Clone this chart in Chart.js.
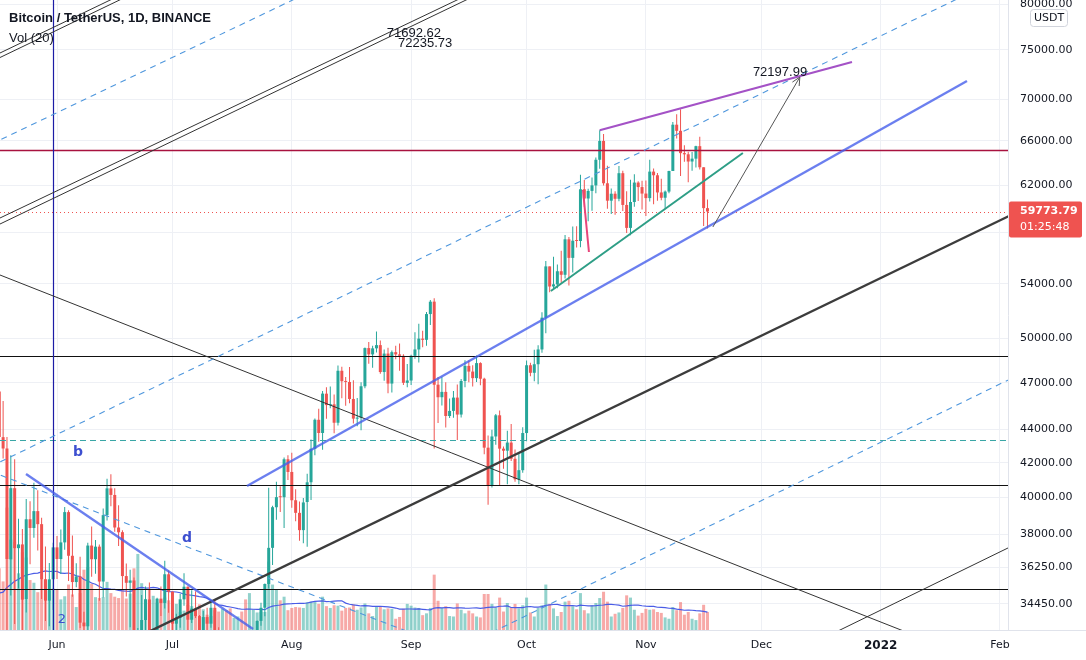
<!DOCTYPE html>
<html>
<head>
<meta charset="utf-8">
<title>BTCUSDT 1D</title>
<script src="https://cdn.jsdelivr.net/npm/chart.js@4.4.0/dist/chart.umd.min.js"></script>
<style>
  html, body { margin: 0; padding: 0; background: #ffffff; }
  #wrap { width: 1086px; height: 660px; position: relative; }
</style>
</head>
<body>
<div id="wrap"><canvas id="btcChart" width="1086" height="660"></canvas></div>
<script>
// ------------------------------------------------------------
// BTC / USDT daily candles, 17 May - 17 Nov 2021 (Binance)
// x values are days counted from 1 Jun 2021
// ------------------------------------------------------------

const FIRST_DAY = -15; // 17 May 2021

const OPEN = [
  46426, 43538, 42850, 36671, 40527, 37252, 37449, 34682, 38796, 38324, 39241, 38530, 35661, 34606, 35658,
  37294, 36687, 37555, 39187, 36856, 35520, 35797, 33556, 33380, 37389, 36677, 37331, 35546, 39020, 40516, 40143, 38349, 38098, 35820, 35484, 35600, 31614, 32510, 33676, 34663, 31577, 32284, 34703, 34494, 35911,
  35045, 33503, 33786, 34669, 35288, 33690, 34220, 33863, 32875, 33815, 33502, 34259, 33087, 32730, 32820, 31874, 31384, 31520, 31778, 30839, 29790, 32144, 32288, 33635, 34262, 35425, 37269, 39456, 40020, 40018, 42207,
  41461, 39846, 39146, 38208, 39745, 40865, 42833, 44614, 43794, 46280, 45543, 45592, 44429, 47793, 47097, 47047, 45937, 44686, 44741, 46763, 49340, 48905, 49322, 49546, 47707, 48961, 46942, 49058, 48903, 48807, 46988,
  47143, 48808, 49246, 50000, 49917, 51756, 52666, 46868, 46049, 46396, 44851, 45173, 46026, 44942, 47111, 48122, 47738, 47300, 48310, 47261, 42900, 40670, 43580, 44895, 42839, 42716, 43208, 42236, 41034, 41564,
  43790, 48166, 47657, 48233, 49245, 51493, 55339, 53798, 53955, 54964, 54691, 57485, 56005, 57373, 57348, 61672, 60876, 61529, 62006, 64280, 66002, 62193, 60689, 61286, 60852, 63079, 60328, 58413, 60575, 62253, 61860,
  61299, 60911, 63220, 62896, 61396, 60941, 61470, 63274, 67526, 66947, 64883, 64774, 64123, 64380, 65520, 63606, 60059,
];
const HIGH = [
  46686, 45800, 43546, 42451, 42200, 38829, 38270, 39920, 39791, 40841, 40412, 38877, 37338, 36488, 37534,
  37894, 38237, 39476, 39289, 37917, 36477, 36800, 34068, 37530, 38400, 37681, 37447, 39380, 41064, 41330, 40527, 39560, 38200, 36457, 36137, 35750, 33298, 34881, 35298, 35500, 32730, 34749, 35297, 36600, 36100,
  35057, 33977, 34945, 35967, 35293, 35118, 35059, 33920, 34100, 34262, 34666, 34679, 33341, 33115, 33186, 32249, 31955, 32435, 31899, 31063, 32858, 32591, 33650, 34500, 35450, 40550, 39542, 40900, 40640, 42317, 42448,
  42599, 40459, 39780, 39969, 41350, 43392, 44700, 45310, 46454, 46700, 46743, 46218, 48144, 48070, 47372, 48053, 47160, 46000, 47033, 49382, 49757, 49500, 50500, 49875, 49240, 49365, 49170, 49500, 49667, 48909, 48246,
  48888, 50450, 51055, 50558, 51900, 52780, 52920, 47381, 47400, 47031, 45970, 46460, 46876, 47250, 48500, 48490, 48166, 48825, 48372, 47330, 43639, 44000, 44978, 45200, 42970, 43937, 44350, 42788, 42590, 44141,
  48495, 48336, 49228, 49530, 51886, 55750, 55340, 56100, 55489, 56561, 57839, 57680, 58532, 58549, 62933, 62480, 61720, 62695, 64486, 67000, 66639, 63732, 61747, 61500, 63711, 63293, 61496, 62499, 62980, 62359, 62405,
  62437, 64270, 63500, 63086, 62595, 61560, 63286, 67789, 68524, 69000, 65600, 65000, 64988, 65550, 66401, 63617, 60800,
];
const LOW = [
  42001, 42250, 30000, 34850, 33488, 35200, 31111, 34031, 36419, 37800, 37134, 34684, 33633, 33379, 34153,
  35667, 35920, 37171, 35567, 34800, 35258, 33300, 31000, 32396, 35782, 35937, 34600, 34757, 38730, 39506, 38116, 37365, 35129, 34803, 33336, 31251, 28805, 31683, 32286, 31275, 30151, 31973, 33862, 34225, 34017,
  32711, 32699, 33316, 34357, 33125, 33532, 33777, 32111, 32261, 33005, 33307, 32658, 32202, 31600, 31133, 31021, 31164, 31108, 30407, 29278, 29482, 31708, 31924, 33401, 33851, 35205, 36383, 38772, 39200, 38323, 41000,
  39422, 38690, 37642, 37508, 37332, 39853, 42450, 43261, 42779, 44673, 45341, 43770, 44252, 45975, 45500, 45660, 44376, 44203, 43955, 46631, 48273, 48000, 49029, 47600, 47126, 46315, 46362, 48570, 47800, 46853, 46700,
  46853, 48600, 48348, 49400, 49500, 50969, 42843, 44412, 45514, 44132, 44720, 44742, 43370, 44750, 46699, 47023, 46750, 47050, 46829, 42500, 39600, 40565, 43069, 40675, 41647, 40750, 42098, 40888, 40753, 41410,
  43283, 47430, 47100, 46891, 49022, 50383, 53357, 53617, 53661, 54080, 54415, 53879, 54870, 56818, 56850, 60150, 58963, 59844, 61322, 63482, 62000, 60000, 59562, 59510, 60650, 59817, 58000, 57820, 60174, 60673, 59945,
  59405, 60624, 60382, 60677, 60721, 60050, 61322, 63273, 66222, 62822, 64100, 62278, 63303, 63576, 63400, 58574, 58373,
];
const CLOSE = [
  43541, 42850, 36690, 40527, 37252, 37449, 34655, 38796, 38324, 39241, 38529, 35664, 34606, 35658, 37294,
  36687, 37555, 39187, 36856, 35520, 35797, 33552, 33380, 37389, 36677, 37331, 35546, 39020, 40516, 40144, 38349, 38092, 35820, 35483, 35600, 31608, 32509, 33678, 34663, 31584, 32283, 34700, 34494, 35911, 35045,
  33504, 33786, 34669, 35287, 33690, 34220, 33862, 32875, 33815, 33502, 34259, 33086, 32729, 32820, 31880, 31383, 31520, 31778, 30839, 29790, 32144, 32287, 33634, 34258, 35425, 37269, 39457, 40020, 40016, 42206, 41461,
  39845, 39147, 38207, 39723, 40862, 42836, 44614, 43792, 46285, 45543, 45592, 44428, 47793, 47096, 47047, 45936, 44686, 44741, 46763, 49339, 48905, 49321, 49546, 47707, 48960, 46942, 49058, 48903, 48807, 46991, 47145,
  48810, 49246, 49999, 49915, 51756, 52663, 46864, 46048, 46396, 44851, 45172, 46025, 44941, 47112, 48122, 47738, 47300, 48310, 47261, 42900, 40670, 43580, 44895, 42840, 42717, 43208, 42236, 41034, 41564, 43790,
  48165, 47657, 48233, 49245, 51493, 55339, 53797, 53963, 54963, 54691, 57485, 56006, 57374, 57347, 61672, 60876, 61528, 62010, 64280, 66002, 62194, 60689, 61286, 60852, 63078, 60328, 58413, 60576, 62253, 61859, 61300,
  60911, 63219, 62896, 61395, 60937, 61470, 63273, 67525, 66947, 64882, 64774, 64122, 64380, 65519, 63606, 60058, 59773.79,
];
// volume in thousands of BTC
const VOLUME = [
  137, 108, 272, 201, 196, 126, 173, 161, 111, 105, 84, 114, 112, 87, 92,
  89, 68, 75, 101, 79, 51, 82, 134, 140, 103, 73, 71, 73, 107, 82, 74, 71, 90, 70, 81, 137, 169, 104, 69, 90, 76, 61, 66, 72, 66,
  72, 58, 40, 43, 56, 53, 44, 57, 46, 34, 31, 44, 41, 47, 44, 48, 27, 30, 41, 68, 82, 46, 39, 40, 40, 152, 101, 89, 66, 74, 44,
  49, 51, 50, 49, 62, 63, 63, 58, 74, 53, 49, 55, 54, 43, 49, 50, 57, 45, 50, 59, 37, 31, 52, 52, 46, 48, 47, 25, 29, 47, 58,
  54, 50, 49, 33, 37, 49, 123, 65, 49, 53, 31, 30, 59, 45, 37, 43, 37, 30, 28, 80, 80, 58, 50, 72, 41, 60, 51, 58, 48, 55,
  72, 39, 30, 49, 55, 101, 58, 48, 31, 40, 63, 65, 53, 46, 82, 44, 37, 55, 60, 71, 85, 63, 30, 36, 39, 49, 77, 72, 45, 32, 38,
  47, 45, 46, 40, 38, 28, 25, 51, 44, 62, 34, 40, 25, 22, 37, 56, 40,
];
// the 19 sessions before 17 May, only needed for the Vol MA(20)
const VOLUME_BEFORE = [69, 64, 71, 45, 42, 61, 92, 70, 69, 72, 54, 69, 116, 80, 97, 148, 82, 85, 121];

const PRICE_TICKS = [34450, 36250, 38000, 40000, 42000, 44000, 47000, 50000, 54000, 58000, 62000, 66000, 70000, 75000, 80000];
const MONTH_DAYS = [0, 30, 61, 92, 122, 153, 183, 214, 245];
const MONTH_LABELS = ["Jun", "Jul", "Aug", "Sep", "Oct", "Nov", "Dec", "2022", "Feb"];

const LAST_PRICE = 59773.79;
const COUNTDOWN = "01:25:48";

// user drawings, anchored as [day, price]
const THIN_BLACK_LINES = [
  [[-10, 75619], [0, 77610]],
  [[-10, 75142], [0, 77121]],
  [[0, 61537], [100, 79641]],
  [[0, 61038], [100, 79150]],
  [[0, 52975], [200, 34599]],
  [[220, 34691], [245, 37058]],
];
const DASHED_BLUE_LINES = [
  [[-10, 66921], [0, 68674]],
  [[0, 43706], [200, 73742]],
  [[120, 33712], [240, 46299]],
  [[-10, 40876], [50, 36087]],
];
const THICK_BLACK_LINE = [[60, 36408], [200, 52486]];
const BLUE_TREND_LINES = [
  [[49.36, 40652], [236.42, 71799]],
  [[-8.05, 41343], [50.92, 33256]],
];
const PURPLE_LINE = [[141, 67000], [206.55, 73742]];
const TEAL_LINE = [[128.3, 53461], [178.2, 64893]];
const PINK_LINE = [[136.66, 61606], [138.2, 56471]];
const ARROW_LINE = [[170.4, 58488], [193, 72198]];
const BLACK_LEVELS = [48761, 40709, 35152];
const RED_LEVEL = 65122;
const TEAL_LEVEL = 43334;
const MARKER_DAY = -1;
const PRICE_NOTES = [
  { day: 85.7, price: 76807, text: "71692.62" },
  { day: 88.6, price: 75736, text: "72235.73" },
  { day: 180.8, price: 72714, text: "72197.99" },
];
const WAVE_NOTES = [
  { day: 5.46, price: 42642, text: "b" },
  { day: 33.78, price: 37789, text: "d" },
  { day: 1.3, price: 33679, text: "2" },
];

// ------------------------------------------------------------

const UP = "#26a69a";
const DOWN = "#ef5350";
const UP_VOL = "rgba(38, 166, 154, 0.5)";
const DOWN_VOL = "rgba(239, 83, 80, 0.5)";
const FONT = "'DejaVu Sans', sans-serif";

const days = CLOSE.map((_, i) => FIRST_DAY + i);
const isUp = (i) => CLOSE[i] >= OPEN[i];

const allVolume = VOLUME_BEFORE.concat(VOLUME);
const volumeMa = VOLUME.map((_, i) => {
  const end = i + VOLUME_BEFORE.length + 1;
  const win = allVolume.slice(end - 20, end);
  return win.reduce((a, b) => a + b, 0) / win.length;
});

const toPx = (chart, p) => [chart.scales.x.getPixelForValue(p[0]), chart.scales.y.getPixelForValue(p[1])];

const strokeSegment = (ctx, a, b, extend) => {
  let [x1, y1] = a;
  let [x2, y2] = b;
  if (extend) {
    const len = Math.hypot(x2 - x1, y2 - y1);
    const ux = ((x2 - x1) / len) * 3000;
    const uy = ((y2 - y1) / len) * 3000;
    x1 -= ux; y1 -= uy; x2 += ux; y2 += uy;
  }
  ctx.beginPath();
  ctx.moveTo(x1, y1);
  ctx.lineTo(x2, y2);
  ctx.stroke();
};

const setPen = (ctx, color, width, dash) => {
  ctx.strokeStyle = color;
  ctx.lineWidth = width;
  ctx.setLineDash(dash || []);
};

const drawingsPlugin = {
  id: "drawings",
  afterDatasetsDraw(chart) {
    const { ctx, chartArea: area } = chart;
    const y = chart.scales.y;
    ctx.save();
    ctx.beginPath();
    ctx.rect(area.left, area.top, area.right - area.left, area.bottom - area.top);
    ctx.clip();

    const hLine = (price, color, width, dash) => {
      const py = Math.round(y.getPixelForValue(price)) + 0.5;
      setPen(ctx, color, width, dash);
      strokeSegment(ctx, [area.left, py], [area.right, py], false);
    };
    hLine(TEAL_LEVEL, "#3aa6a6", 1, [6, 4]);
    BLACK_LEVELS.forEach((p) => hLine(p, "#111111", 1.2));
    hLine(RED_LEVEL, "#a8123f", 1.6);
    hLine(LAST_PRICE, "#ef5350", 1, [1, 3]);

    const mx = Math.round(chart.scales.x.getPixelForValue(MARKER_DAY)) + 0.5;
    setPen(ctx, "#1c1ca6", 1.2);
    strokeSegment(ctx, [mx, area.top], [mx, area.bottom], false);

    setPen(ctx, "#333333", 1);
    THIN_BLACK_LINES.forEach((l) => strokeSegment(ctx, toPx(chart, l[0]), toPx(chart, l[1]), true));

    setPen(ctx, "#4f97dd", 1.1, [6, 5]);
    DASHED_BLUE_LINES.forEach((l) => strokeSegment(ctx, toPx(chart, l[0]), toPx(chart, l[1]), true));

    setPen(ctx, "#3c3c3c", 2.4);
    strokeSegment(ctx, toPx(chart, THICK_BLACK_LINE[0]), toPx(chart, THICK_BLACK_LINE[1]), true);

    setPen(ctx, "rgba(70, 95, 235, 0.8)", 2.4);
    BLUE_TREND_LINES.forEach((l) => strokeSegment(ctx, toPx(chart, l[0]), toPx(chart, l[1]), false));

    setPen(ctx, "#a452c6", 2.2);
    strokeSegment(ctx, toPx(chart, PURPLE_LINE[0]), toPx(chart, PURPLE_LINE[1]), false);

    setPen(ctx, "#2e9e86", 2);
    strokeSegment(ctx, toPx(chart, TEAL_LINE[0]), toPx(chart, TEAL_LINE[1]), false);

    setPen(ctx, "#e8457a", 2);
    strokeSegment(ctx, toPx(chart, PINK_LINE[0]), toPx(chart, PINK_LINE[1]), false);

    // arrow
    const a0 = toPx(chart, ARROW_LINE[0]);
    const a1 = toPx(chart, ARROW_LINE[1]);
    setPen(ctx, "#555555", 1);
    strokeSegment(ctx, a0, a1, false);
    const ang = Math.atan2(a1[1] - a0[1], a1[0] - a0[0]);
    [-0.45, 0.45].forEach((d) => {
      strokeSegment(ctx, a1, [a1[0] - 9 * Math.cos(ang + d), a1[1] - 9 * Math.sin(ang + d)], false);
    });

    ctx.setLineDash([]);
    ctx.fillStyle = "#131722";
    ctx.font = "13px 'Liberation Sans', sans-serif";
    ctx.textAlign = "left";
    ctx.textBaseline = "middle";
    PRICE_NOTES.forEach((n) => {
      const [px, py] = toPx(chart, [n.day, n.price]);
      ctx.fillText(n.text, px, py);
    });

    ctx.fillStyle = "#3d4fd0";
    ctx.textAlign = "center";
    WAVE_NOTES.forEach((n) => {
      const [px, py] = toPx(chart, [n.day, n.price]);
      ctx.font = n.text === "2" ? "13px " + FONT : "bold 14px " + FONT;
      ctx.fillText(n.text, px, py);
    });
    ctx.restore();
  },
  afterDraw(chart) {
    const { ctx, chartArea: area } = chart;
    ctx.save();
    // time axis line under the price scale too
    ctx.strokeStyle = "#e0e3eb";
    ctx.lineWidth = 1;
    ctx.beginPath();
    ctx.moveTo(area.right, area.bottom + 0.5);
    ctx.lineTo(chart.width, area.bottom + 0.5);
    ctx.stroke();

    // legend
    ctx.fillStyle = "#131722";
    ctx.textAlign = "left";
    ctx.textBaseline = "middle";
    ctx.font = "bold 13px 'Liberation Sans', sans-serif";
    ctx.fillText("Bitcoin / TetherUS, 1D, BINANCE", 9, 18);
    ctx.font = "13px 'Liberation Sans', sans-serif";
    ctx.fillText("Vol (20)", 9, 38);

    // currency badge
    const bx = area.right + 22;
    ctx.fillStyle = "#ffffff";
    ctx.strokeStyle = "#d1d4dc";
    ctx.beginPath();
    ctx.roundRect(bx + 0.5, 9.5, 37, 17, 3);
    ctx.fill();
    ctx.stroke();
    ctx.fillStyle = "#131722";
    ctx.font = "11px " + FONT;
    ctx.textAlign = "center";
    ctx.fillText("USDT", bx + 19, 18.5);

    // last price badge
    const py = chart.scales.y.getPixelForValue(LAST_PRICE);
    ctx.fillStyle = "#ef5350";
    ctx.beginPath();
    ctx.roundRect(area.right + 1, py - 10, 73, 36, 2);
    ctx.fill();
    ctx.fillStyle = "#ffffff";
    ctx.textAlign = "left";
    ctx.font = "bold 11px " + FONT;
    ctx.fillText(LAST_PRICE.toFixed(2), area.right + 12, py);
    ctx.font = "11px " + FONT;
    ctx.fillText(COUNTDOWN, area.right + 12, py + 16);
    ctx.restore();
  },
};

const buildDatasets = () => [
  {
    type: "bar",
    label: "Volume",
    yAxisID: "yVol",
    data: days.map((d, i) => ({ x: d, y: VOLUME[i] })),
    backgroundColor: days.map((_, i) => (isUp(i) ? UP_VOL : DOWN_VOL)),
    barThickness: 3,
    grouped: false,
    inflateAmount: 0,
    order: 4,
  },
  {
    type: "line",
    label: "Vol MA",
    yAxisID: "yVol",
    data: days.map((d, i) => ({ x: d, y: volumeMa[i] })),
    borderColor: "#4a5ce6",
    borderWidth: 1.2,
    pointRadius: 0,
    tension: 0,
    order: 3,
  },
  {
    type: "bar",
    label: "Wick",
    yAxisID: "y",
    data: days.map((d, i) => ({ x: d, y: [LOW[i], HIGH[i]] })),
    backgroundColor: days.map((_, i) => (isUp(i) ? UP : DOWN)),
    barThickness: 1,
    grouped: false,
    inflateAmount: 0,
    order: 2,
  },
  {
    type: "bar",
    label: "Body",
    yAxisID: "y",
    data: days.map((d, i) => ({ x: d, y: [Math.min(OPEN[i], CLOSE[i]), Math.max(OPEN[i], CLOSE[i])] })),
    backgroundColor: days.map((_, i) => (isUp(i) ? UP : DOWN)),
    barThickness: 3,
    minBarLength: 1,
    grouped: false,
    inflateAmount: 0,
    order: 1,
  },
];

const chart = new Chart(document.getElementById("btcChart").getContext("2d"), {
  type: "bar",
  data: { datasets: buildDatasets() },
  options: {
    responsive: false,
    devicePixelRatio: 1,
    animation: false,
    layout: { padding: 0 },
    plugins: { legend: { display: false }, tooltip: { enabled: false } },
    scales: {
      x: {
        type: "linear",
        min: -14.81,
        max: 247.08,
        offset: false,
        afterBuildTicks: (s) => { s.ticks = MONTH_DAYS.map((v) => ({ value: v })); },
        afterFit: (s) => { s.height = 30; s.paddingLeft = 0; s.paddingRight = 0; },
        grid: { color: "#eef0f5", drawTicks: false, offset: false },
        border: { color: "#e0e3eb" },
        ticks: {
          autoSkip: false,
          maxRotation: 0,
          padding: 9,
          color: "#131722",
          font: (c) => ({ family: FONT, size: c.tick && c.tick.value === 214 ? 12 : 11, weight: c.tick && c.tick.value === 214 ? "bold" : "normal" }),
          callback: (v) => { const k = MONTH_DAYS.indexOf(v); return k < 0 ? "" : MONTH_LABELS[k]; },
        },
      },
      y: {
        type: "logarithmic",
        position: "right",
        min: 33207,
        max: 80451,
        afterBuildTicks: (s) => { s.ticks = PRICE_TICKS.map((v) => ({ value: v })); },
        afterFit: (s) => { s.width = 78; s.paddingTop = 0; s.paddingBottom = 0; },
        grid: { color: "#eef0f5", drawTicks: false },
        border: { color: "#e0e3eb" },
        ticks: {
          padding: 12,
          color: "#131722",
          font: { family: FONT, size: 11 },
          callback: (v) => Number(v).toFixed(2),
        },
      },
      yVol: {
        type: "linear",
        display: false,
        min: 0,
        max: 1400,
      },
    },
  },
  plugins: [drawingsPlugin],
});
</script>
</body>
</html>
